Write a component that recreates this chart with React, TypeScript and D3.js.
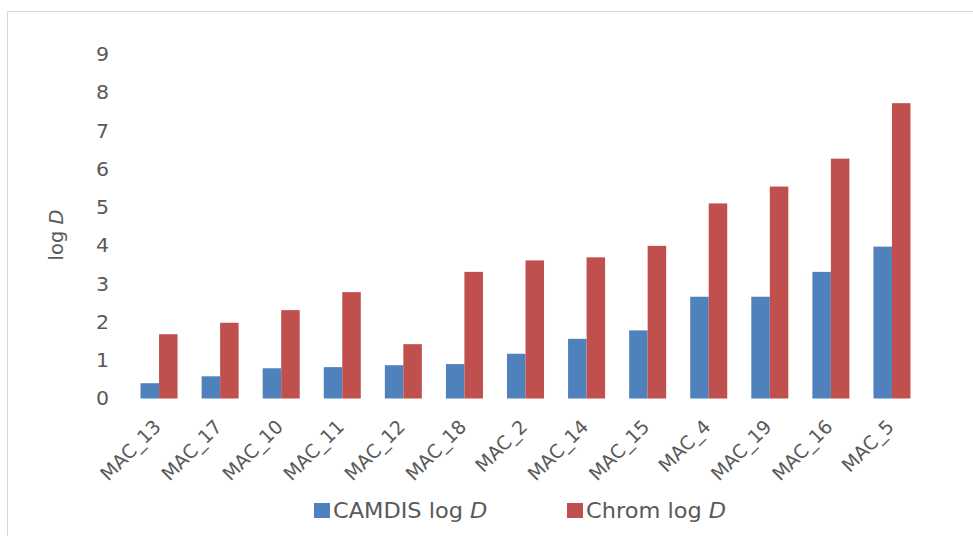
import React from 'react';
import * as d3 from 'd3';

const categories = ['MAC_13', 'MAC_17', 'MAC_10', 'MAC_11', 'MAC_12', 'MAC_18', 'MAC_2', 'MAC_14', 'MAC_15', 'MAC_4', 'MAC_19', 'MAC_16', 'MAC_5'];
const camdisValues = [0.4, 0.58, 0.79, 0.82, 0.87, 0.9, 1.17, 1.56, 1.78, 2.66, 2.66, 3.31, 3.97];
const chromValues = [1.68, 1.98, 2.31, 2.78, 1.42, 3.31, 3.61, 3.69, 3.99, 5.1, 5.54, 6.27, 7.72];
const yTicks = [0, 1, 2, 3, 4, 5, 6, 7, 8, 9];
const seriesNames = ['CAMDIS log ', 'Chrom log '];
const seriesColors = ['#4F81BD', '#C0504D'];

const W = 973;
const H = 537;
const FONT = '"DejaVu Sans", Verdana, sans-serif';
const TEXT = '#595959';

const App: React.FC = () => {
  const x = d3.scaleBand<string>()
    .domain(categories)
    .range([128.5, 922.5])
    .paddingInner(0.394)
    .paddingOuter(0.197);

  const inner = d3.scaleBand<number>().domain([0, 1]).range([0, x.bandwidth()]);

  const y = d3.scaleLinear().domain([0, 9]).range([398.5, 54.2]);

  const series = [camdisValues, chromValues];

  return (
    <svg width={W} height={H} style={{ position: 'absolute', left: 0, top: 0, background: '#fff' }}>
      {/* chart frame (only left and top visible) */}
      <line x1={7.5} y1={11.5} x2={W} y2={11.5} stroke="#d9d9d9" strokeWidth={1} />
      <line x1={7.5} y1={11.5} x2={7.5} y2={536} stroke="#d9d9d9" strokeWidth={1} />

      {/* y tick labels */}
      {yTicks.map(t => (
        <text key={t} x={109} y={y(t)} dy="0.36em" textAnchor="end" fontFamily={FONT} fontSize={19} fill={TEXT}
          transform={`translate(${109 * -0.08},0) scale(1.08,1)`}>
          {t}
        </text>
      ))}

      {/* y axis title */}
      <text transform="translate(63,235) rotate(-90)" textAnchor="middle" fontFamily={FONT} fontSize={19.5} fill={TEXT}>
        log <tspan fontStyle="italic">D</tspan>
      </text>

      {/* bars */}
      {categories.map((c, i) => (
        <g key={c} transform={`translate(${x(c)},0)`}>
          {series.map((vals, s) => (
            <rect
              key={s}
              x={inner(s)}
              y={y(vals[i])}
              width={inner.bandwidth()}
              height={y(0) - y(vals[i])}
              fill={seriesColors[s]}
            />
          ))}
        </g>
      ))}

      {/* x labels */}
      {categories.map(c => (
        <text
          key={c}
          transform={`translate(${(x(c) as number) + x.bandwidth() / 2 + 3},428) rotate(-45)`}
          textAnchor="end"
          fontFamily={FONT}
          fontSize={19}
          fill={TEXT}
        >
          {c}
        </text>
      ))}

      {/* legend */}
      {seriesNames.map((name, s) => {
        const lx = s === 0 ? 314 : 567;
        return (
          <g key={name} transform={`translate(${lx},503)`}>
            <rect x={0} y={0} width={16} height={15} fill={seriesColors[s]} />
            <text x={19} y={15} fontFamily={FONT} fontSize={21} fill={TEXT} transform="scale(1.07,1)" style={{ transformOrigin: '19px 0px' }}>
              {name}
              <tspan fontStyle="italic">D</tspan>
            </text>
          </g>
        );
      })}
    </svg>
  );
};

export default App;
